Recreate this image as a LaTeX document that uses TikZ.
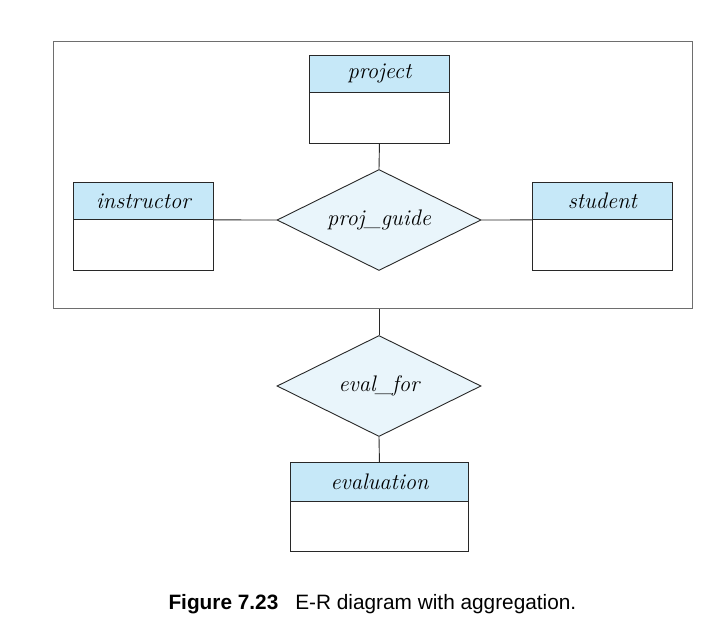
\documentclass[tikz,border=0pt]{standalone}
\usepackage{fontspec}
\newfontfamily\capfont{Liberation Sans}
\usetikzlibrary{shapes.geometric}
\definecolor{hdrblue}{RGB}{198,232,248}
\definecolor{relblue}{RGB}{233,245,251}
\definecolor{edgegray}{RGB}{40,40,40}
\definecolor{aggray}{RGB}{110,110,110}
\tikzset{
  entname/.style={draw=edgegray, line width=0.9pt, fill=hdrblue, rectangle, inner sep=0pt,
    minimum height=37pt, font=\fontsize{22.5}{26}\selectfont\itshape, anchor=north west},
  entbody/.style={draw=edgegray, line width=0.9pt, fill=white, rectangle, inner sep=0pt,
    minimum height=50pt, anchor=north west},
  relship/.style={draw=edgegray, line width=0.9pt, fill=relblue, diamond, aspect=2.04, inner sep=0pt,
    minimum width=204pt, minimum height=101pt, font=\fontsize{22.5}{26}\selectfont\itshape},
  conn/.style={draw=edgegray, line width=0.9pt},
  aggbox/.style={draw=aggray, line width=1.1pt, rectangle, inner sep=0pt, anchor=north west}
}
\begin{document}
\begin{tikzpicture}[x=1pt,y=-1pt]
\useasboundingbox (0,0) rectangle (723,622);
% aggregation box
\node[aggbox, minimum width=639pt, minimum height=267pt] (agg) at (53,41) {};
% project
\node[entname, minimum width=140pt] (project) at (309,55) {project};
\node[entbody, minimum width=140pt, minimum height=51pt] (projectb) at (309,92) {};
% instructor
\node[entname, minimum width=140pt] (instructor) at (73,182) {instructor};
\node[entbody, minimum width=140pt, minimum height=51pt] (instructorb) at (73,219) {};
% student
\node[entname, minimum width=140pt] (student) at (532,182) {student};
\node[entbody, minimum width=140pt, minimum height=51pt] (studentb) at (532,219) {};
% proj_guide
\node[relship] (pg) at (379,220) {proj\_guide};
% eval_for
\node[relship] (ef) at (379,386) {eval\_for};
% evaluation
\node[entname, minimum width=178pt, minimum height=39pt] (evaluation) at (290,462) {evaluation};
\node[entbody, minimum width=178pt] (evaluationb) at (290,501) {};
% connectors
\draw[conn] (projectb.south) -- (pg.north);
\draw[conn] (instructor.south east) -- (pg.west);
\draw[conn] (pg.east) -- (student.south west);
\draw[conn] (ef.north) -- (ef.north |- agg.south);
\draw[conn] (ef.south) -- (evaluation.north);
% caption
\node[font=\capfont\fontsize{20.8}{24}\selectfont, anchor=west] (cap) at (165,604)
  {\textbf{Figure 7.23}\hspace{17pt}E-R diagram with aggregation.};
\end{tikzpicture}
\end{document}
